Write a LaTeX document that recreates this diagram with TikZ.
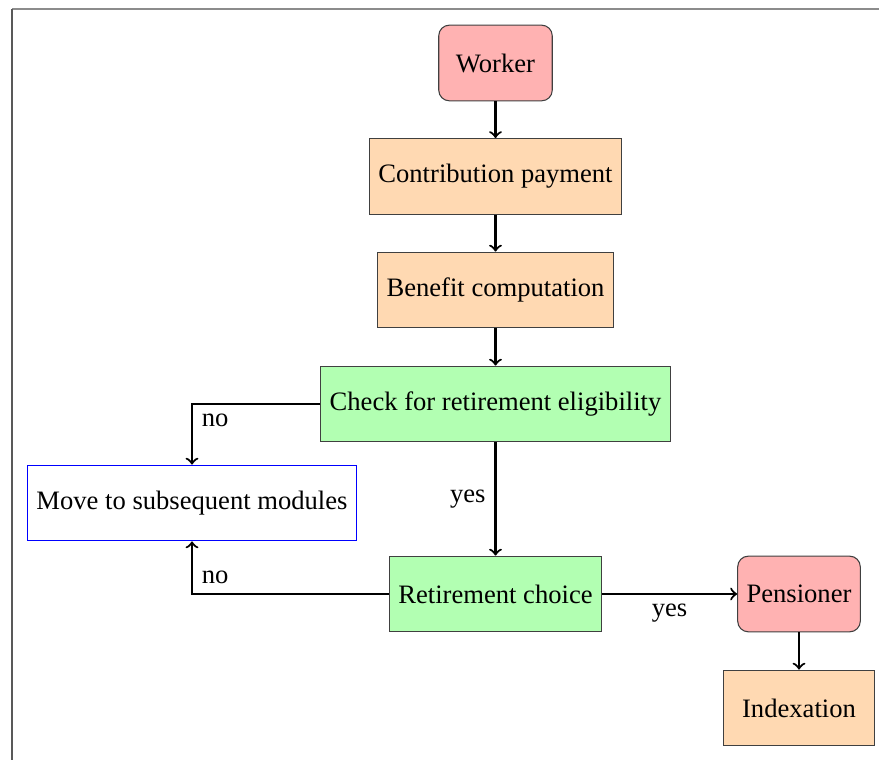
\documentclass[tikz,border=0pt]{standalone}
\usepackage{fontspec}
\setmainfont{Liberation Serif}
\begin{document}
\begin{tikzpicture}[x=0.013214cm,y=-0.013214cm,
  base/.style={draw=black!75, minimum height=1cm, minimum width=2cm, inner sep=3.33pt},
  startstop/.style={base, rounded corners, fill=red!30, minimum width=1.5cm},
  process/.style={base, fill=orange!30},
  decision/.style={base, fill=green!30},
  io/.style={base, draw=blue, fill=white},
  flow/.style={->, thick},
  lbl/.style={inner sep=3.33pt}]
\useasboundingbox (0,0) rectangle (879,760);
% page frame
\draw[black!45, line width=0.7pt] (12,8.7) -- (879,8.7);
\draw[black!65, line width=0.7pt] (12,760) -- (12,8.7);

\node[startstop] (worker) at (495.5,63) {Worker};
\node[process] (contrib) at (495.5,176.5) {Contribution payment};
\node[process] (benefit) at (495.5,290) {Benefit computation};
\node[decision] (check) at (495.5,404) {Check for retirement eligibility};
\node[io] (move) at (192,503) {Move to subsequent modules};
\node[decision] (choice) at (495.5,594) {Retirement choice};
\node[startstop] (pens) at (799,594) {Pensioner};
\node[process] (index) at (799,708) {Indexation};

\draw[flow] (worker) -- (contrib);
\draw[flow] (contrib) -- (benefit);
\draw[flow] (benefit) -- (check);
\draw[flow] (check) -- node[lbl, midway, left] {yes} (choice);
\draw[flow] (check.west) -| node[lbl, pos=0.5, below right] {no} (move.north);
\draw[flow] (choice.west) -| node[lbl, pos=0.5, above right] {no} (move.south);
\draw[flow] (choice) -- node[lbl, midway, below] {yes} (pens);
\draw[flow] (pens) -- (index);
\end{tikzpicture}
\end{document}
